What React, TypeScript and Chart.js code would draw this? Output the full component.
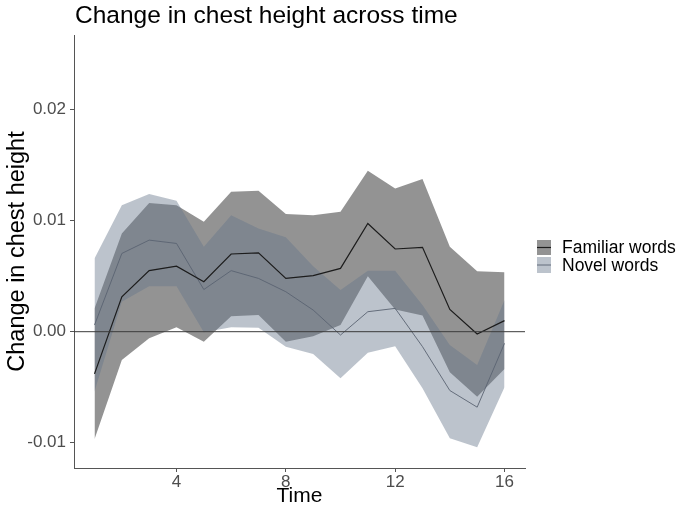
import React, { useEffect, useRef } from 'react';
import { Chart, registerables } from 'chart.js';

Chart.register(...registerables);

const timePoints = [1, 2, 3, 4, 5, 6, 7, 8, 9, 10, 11, 12, 13, 14, 15, 16];

const familiarMean = [-0.0038, 0.00315, 0.0055, 0.0059, 0.0045, 0.007, 0.0071, 0.0048, 0.00505, 0.0057, 0.00975, 0.00745, 0.0076, 0.002, -0.0002, 0.001];
const familiarUpper = [0.0021, 0.00885, 0.0116, 0.0114, 0.0099, 0.0126, 0.0127, 0.0106, 0.0105, 0.0108, 0.0145, 0.0129, 0.01375, 0.00765, 0.00545, 0.00535];
const familiarLower = [-0.0097, -0.00255, -0.0006, 0.0004, -0.0009, 0.0014, 0.0015, -0.0009, -0.0004, 0.0006, 0.005, 0.002, 0.00145, -0.00365, -0.00585, -0.00335];

const novelMean = [0.0006, 0.00705, 0.00825, 0.00795, 0.0038, 0.0055, 0.0048, 0.0036, 0.00195, -0.0003, 0.0018, 0.0021, -0.00135, -0.0053, -0.0068, -0.00105];
const novelUpper = [0.0066, 0.0114, 0.0124, 0.0118, 0.00765, 0.0105, 0.0093, 0.0085, 0.0059, 0.00375, 0.0055, 0.0055, 0.0024, -0.0012, -0.003, 0.00285];
const novelLower = [-0.0054, 0.0027, 0.0041, 0.0041, -0.00005, 0.0004, 0.00035, -0.00135, -0.002, -0.0042, -0.0019, -0.0013, -0.0051, -0.0096, -0.0104, -0.005];

const xTicks = [4, 8, 12, 16];
const yTicks = [-0.01, 0, 0.01, 0.02];
const yTickLabels = ['-0.01', '0.00', '0.01', '0.02'];

const seriesNames = ['Familiar words', 'Novel words'];
const chartTitle = 'Change in chest height across time';
const xTitle = 'Time';
const yTitle = 'Change in chest height';

const FONT = '"Liberation Sans", Arial, sans-serif';
const famFill = 'rgba(0,0,0,0.423)';
const novFill = 'rgba(101,117,138,0.435)';
const famLine = '#1c1c1c';
const novLine = '#5a6372';

const toPts = (arr: number[]) => timePoints.map((t, i) => ({ x: t, y: arr[i] }));

export default function App() {
  const ref = useRef<HTMLCanvasElement | null>(null);

  useEffect(() => {
    document.body.style.margin = '0';
    const canvas = ref.current;
    if (!canvas) return;

    const extras = {
      id: 'extras',
      afterDatasetsDraw(chart: any) {
        const { ctx, chartArea, scales } = chart;
        const y0 = scales.y.getPixelForValue(0);
        ctx.save();
        ctx.strokeStyle = '#3a3a3a';
        ctx.lineWidth = 1;
        ctx.beginPath();
        ctx.moveTo(chartArea.left, y0);
        ctx.lineTo(chartArea.right, y0);
        ctx.stroke();
        ctx.restore();
      },
      afterDraw(chart: any) {
        const { ctx, chartArea } = chart;
        ctx.save();
        ctx.fillStyle = '#000';
        ctx.font = `24.5px ${FONT}`;
        ctx.textBaseline = 'alphabetic';
        ctx.textAlign = 'left';
        ctx.fillText(chartTitle, chartArea.left + 1, 23);

        const kx = chartArea.right + 12;
        const keys = [
          { y: 240, h: 15, fill: famFill, line: famLine, lw: 1.2 },
          { y: 257, h: 16, fill: novFill, line: novLine, lw: 0.9 },
        ];
        keys.forEach((k, i) => {
          ctx.fillStyle = k.fill;
          ctx.fillRect(kx, k.y, 14, k.h);
          ctx.strokeStyle = k.line;
          ctx.lineWidth = k.lw;
          ctx.beginPath();
          ctx.moveTo(kx, k.y + k.h / 2);
          ctx.lineTo(kx + 14, k.y + k.h / 2);
          ctx.stroke();
          ctx.fillStyle = '#000';
          ctx.font = `17.5px ${FONT}`;
          ctx.textBaseline = 'middle';
          ctx.fillText(seriesNames[i], kx + 25, k.y + k.h / 2 + 1);
        });
        ctx.restore();
      },
    };

    const chart = new Chart(canvas, {
      type: 'line',
      data: {
        datasets: [
          { label: 'famUpper', data: toPts(familiarUpper), fill: '+1', backgroundColor: famFill, borderWidth: 0, pointRadius: 0, order: 4, tension: 0 },
          { label: 'famLower', data: toPts(familiarLower), fill: false, borderWidth: 0, pointRadius: 0, order: 4, tension: 0 },
          { label: 'novUpper', data: toPts(novelUpper), fill: '+1', backgroundColor: novFill, borderWidth: 0, pointRadius: 0, order: 3, tension: 0 },
          { label: 'novLower', data: toPts(novelLower), fill: false, borderWidth: 0, pointRadius: 0, order: 3, tension: 0 },
          { label: seriesNames[1], data: toPts(novelMean), fill: false, borderColor: novLine, borderWidth: 0.9, pointRadius: 0, order: 2, tension: 0 },
          { label: seriesNames[0], data: toPts(familiarMean), fill: false, borderColor: famLine, borderWidth: 1.2, pointRadius: 0, order: 1, tension: 0 },
        ],
      },
      options: {
        animation: false,
        responsive: false,
        layout: { padding: { top: 35, right: 160, left: 0, bottom: 0 } },
        plugins: {
          legend: { display: false },
          tooltip: { enabled: false },
          title: { display: false },
        },
        scales: {
          x: {
            type: 'linear',
            min: 0.25,
            max: 16.75,
            afterBuildTicks: (s: any) => { s.ticks = xTicks.map((v) => ({ value: v })); },
            afterFit: (s: any) => { s.height = 45; },
            ticks: { font: { size: 17, family: FONT }, color: '#4d4d4d', padding: 0, maxRotation: 0, autoSkip: false },
            grid: { drawOnChartArea: false, drawTicks: true, tickLength: 4, color: '#555' },
            border: { display: true, color: '#555', width: 1 },
            title: { display: true, text: xTitle, color: '#000', font: { size: 21, family: FONT }, padding: { top: 0, bottom: 4 } },
          },
          y: {
            type: 'linear',
            min: -0.01228,
            max: 0.02673,
            afterBuildTicks: (s: any) => { s.ticks = yTicks.map((v) => ({ value: v })); },
            afterFit: (s: any) => { s.width = 74; },
            ticks: {
              font: { size: 17, family: FONT },
              color: '#4d4d4d',
              padding: 4,
              autoSkip: false,
              callback: (v: any) => {
                const i = yTicks.findIndex((t) => Math.abs(t - Number(v)) < 1e-9);
                return i >= 0 ? yTickLabels[i] : '';
              },
            },
            grid: { drawOnChartArea: false, drawTicks: true, tickLength: 4, color: '#555' },
            border: { display: true, color: '#555', width: 1 },
            title: { display: true, text: yTitle, color: '#000', font: { size: 23.5, family: FONT }, padding: { top: 3, bottom: 0 } },
          },
        },
      },
      plugins: [extras],
    } as any);

    return () => chart.destroy();
  }, []);

  return <canvas ref={ref} width={685} height={513} style={{ display: 'block' }} />;
}
